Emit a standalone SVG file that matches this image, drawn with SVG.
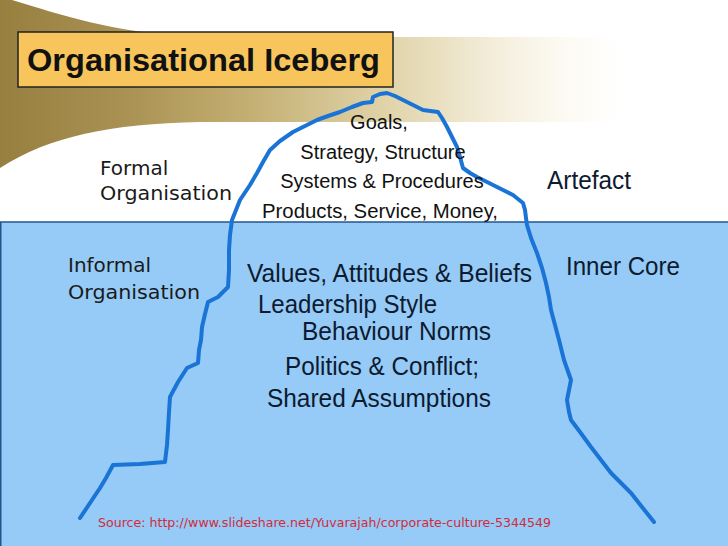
<svg xmlns="http://www.w3.org/2000/svg" width="728" height="546" viewBox="0 0 728 546">
  <defs>
    <linearGradient id="band" gradientUnits="userSpaceOnUse" x1="0" y1="0" x2="620" y2="0">
      <stop offset="0" stop-color="#977f40"/>
      <stop offset="0.2" stop-color="#a89152"/>
      <stop offset="0.4" stop-color="#c4af72"/>
      <stop offset="0.62" stop-color="#e0d3a8"/>
      <stop offset="0.8" stop-color="#f4eedb"/>
      <stop offset="0.92" stop-color="#fdfbf5"/>
      <stop offset="1" stop-color="#ffffff"/>
    </linearGradient>
    <style>
      .top { font-family: "Liberation Sans", Arial, sans-serif; font-size: 20px; fill: #111; text-anchor: middle; }
      .big { font-family: "Liberation Sans", Arial, sans-serif; font-size: 26px; fill: #0d1a30; }
      .comic { font-family: "Comic Sans MS", "DejaVu Sans", sans-serif; font-size: 20px; fill: #1a1a1a; }
      .berg { fill: none; stroke: #1a74d6; stroke-width: 4; stroke-linejoin: round; stroke-linecap: round; }
    </style>
  </defs>

  <rect x="0" y="0" width="728" height="546" fill="#ffffff"/>

  <!-- gold band -->
  <path d="M0,0 L12,0 C60,14 110,33 200,37 L640,37 L640,122 L200,122 C110,124 50,136 0,168 Z" fill="url(#band)"/>

  <!-- water -->
  <g id="water">
    <rect x="0" y="222" width="728" height="324" fill="#95cbf6"/>
    <line x1="0" y1="222" x2="728" y2="222" stroke="#24548a" stroke-width="1.5"/>
    <line x1="0.75" y1="222" x2="0.75" y2="546" stroke="#24548a" stroke-width="1.5"/>
  </g>

  <!-- title -->
  <g id="title">
    <rect x="18" y="32" width="375" height="55" fill="#f8c55c" stroke="#222" stroke-width="1.5"/>
    <text x="27" y="71" font-family="'Liberation Sans', Arial, sans-serif" font-size="32" font-weight="bold" fill="#111" textLength="353" lengthAdjust="spacingAndGlyphs">Organisational Iceberg</text>
  </g>

  <!-- iceberg outline -->
  <g id="connectors">
    <path class="berg" d="M80,518 L92,500 L100,488 L106,478 L113,465 L140,464 L165,462 L167,445 L168,430 L169,412 L170,397 L178,382 L187,368 L198,363 L199,350 L201,340 L202,327 L205,314 L208,302 L218,297 L228,287 L229,270 L229,250 L230,235 L232,220 L240,200 L250,185 L257,173 L263,162 L270,150 L280,141 L293,132 L305,126 L317,120 L328,116 L340,112 L352,107 L363,103 L372,102 L373,97 L380,94 L387,93 L395,96 L403,100 L413,105 L423,110 L438,112 L442,118 L447,127 L452,137 L457,147 L460,157 L463,168 L470,173 L477,177 L487,182 L497,187 L505,191 L513,195 L523,203 L525,210 L526,218 L527,225 L531,238 L537,253 L542,268 L546,283 L549,297 L551,310 L555,325 L559,340 L564,360 L571,380 L569,390 L567,400 L569,412 L571,420 L580,432 L591,447 L601,460 L611,473 L621,483 L631,493 L642,507 L654,522"/>
  </g>

  <!-- labels above water -->
  <g id="artefact-items">
    <text class="top" x="379" y="129">Goals,</text>
    <text class="top" x="383" y="159">Strategy, Structure</text>
    <text class="top" x="382" y="188">Systems &amp; Procedures</text>
    <text class="top" x="380" y="218" textLength="236" lengthAdjust="spacingAndGlyphs">Products, Service, Money,</text>
  </g>
  <g id="artefact">
    <text class="big" x="547" y="189" fill="#111" textLength="84" lengthAdjust="spacingAndGlyphs">Artefact</text>
  </g>
  <g id="formal">
    <text class="comic" x="100" y="175">Formal</text>
    <text class="comic" x="100" y="200" textLength="132" lengthAdjust="spacingAndGlyphs">Organisation</text>
  </g>

  <!-- labels below water -->
  <g id="informal">
    <text class="comic" x="68" y="272">Informal</text>
    <text class="comic" x="68" y="299" textLength="132" lengthAdjust="spacingAndGlyphs">Organisation</text>
  </g>
  <g id="core-items">
    <text class="big" x="247" y="282" textLength="285" lengthAdjust="spacingAndGlyphs">Values, Attitudes &amp; Beliefs</text>
    <text class="big" x="258" y="313" textLength="179" lengthAdjust="spacingAndGlyphs">Leadership Style</text>
    <text class="big" x="302" y="340" textLength="189" lengthAdjust="spacingAndGlyphs">Behaviour Norms</text>
    <text class="big" x="285" y="375" textLength="194" lengthAdjust="spacingAndGlyphs">Politics &amp; Conflict;</text>
    <text class="big" x="267" y="407" textLength="224" lengthAdjust="spacingAndGlyphs">Shared Assumptions</text>
  </g>
  <g id="inner-core">
    <text class="big" x="566" y="275" textLength="114" lengthAdjust="spacingAndGlyphs">Inner Core</text>
  </g>

  <g id="source">
    <text x="98" y="527" font-family="Tahoma, 'DejaVu Sans', sans-serif" font-size="12" fill="#d42a3c" textLength="453" lengthAdjust="spacingAndGlyphs">Source: http://www.slideshare.net/Yuvarajah/corporate-culture-5344549</text>
  </g>
</svg>
